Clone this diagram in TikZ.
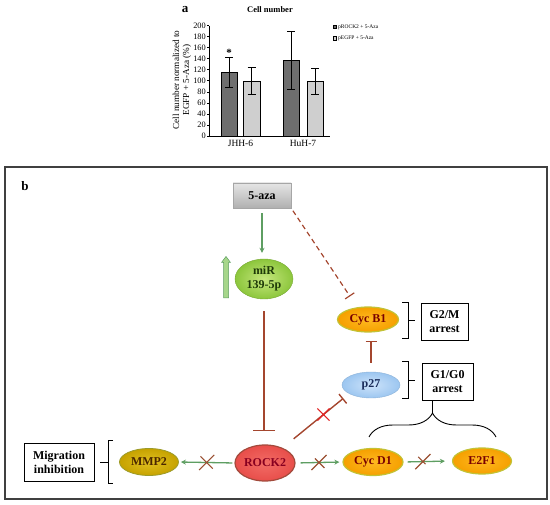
\documentclass[tikz,border=0pt]{standalone}
\usepackage{fontspec}
\setmainfont{Liberation Serif}
\usetikzlibrary{arrows.meta,shapes.geometric,shapes.misc,decorations.pathreplacing,calc,shadows}

\definecolor{bardark}{HTML}{6E6E6E}
\definecolor{barlight}{HTML}{CFCFCF}
\definecolor{mirgreen}{HTML}{8CC63C}
\definecolor{mirlight}{HTML}{C6E77E}
\definecolor{mirtext}{HTML}{1E3A08}
\definecolor{cycorange}{HTML}{F5A000}
\definecolor{cycinner}{HTML}{FFB820}
\definecolor{cycrim}{HTML}{C2C236}
\definecolor{cyctext}{HTML}{780000}
\definecolor{pblue}{HTML}{9CC6F0}
\definecolor{plight}{HTML}{CDE3FA}
\definecolor{ptext}{HTML}{182A58}
\definecolor{mmpgold}{HTML}{C6A200}
\definecolor{mmpinner}{HTML}{E0C020}
\definecolor{mmptext}{HTML}{4A2600}
\definecolor{rockred}{HTML}{E84E4A}
\definecolor{rockinner}{HTML}{F26C66}
\definecolor{rockdark}{HTML}{A24A3C}
\definecolor{rocktext}{HTML}{880020}
\definecolor{actgreen}{HTML}{5E9E62}
\definecolor{upgreen}{HTML}{A6D68A}
\definecolor{inhbrown}{HTML}{A4462E}
\definecolor{xbrown}{HTML}{9A5032}
\definecolor{xred}{HTML}{E02424}
\definecolor{painel}{HTML}{404040}

\tikzset{
  eixo/.style={draw=black, line width=0.6pt},
  barra/.style={draw=black, line width=0.5pt},
  gene/.style={ellipse, inner sep=0pt, minimum width=60pt, minimum height=27pt, align=center,
    font=\bfseries\fontsize{12}{14}\selectfont},
  cyc/.style={gene, draw=cycrim, line width=1.2pt, inner color=cycinner, outer color=cycorange, text=cyctext},
  caixa/.style={draw=black, line width=0.9pt, inner sep=0pt, align=center,
    font=\bfseries\fontsize{12}{14}\selectfont},
  ativa/.style={draw=actgreen, line width=1.3pt, -{Stealth[length=5pt,width=5pt]}},
  inibe/.style={draw=inhbrown, line width=1.4pt, -{Bar[width=12pt]}},
  xmark/.style={cross out, draw=xbrown, line width=1.1pt, minimum width=14pt, minimum height=14pt, inner sep=0pt},
  chave/.style={draw=black, line width=0.9pt},
}

\begin{document}
\begin{tikzpicture}[x=1pt, y=-1pt]
    \useasboundingbox (0,0) rectangle (550,505);

    % Grafico: titulo e legenda
    \node[font=\bfseries\fontsize{13}{13}\selectfont] (la) at (185,10) {a};
    \node[font=\bfseries\fontsize{8.5}{9}\selectfont] (titulo) at (270,10) {Cell number};
    \draw[barra, fill=bardark] (333,25) rectangle (336.5,28.5);
    \draw[barra, fill=barlight] (333,36.5) rectangle (336.5,40);
    \node[anchor=west, inner sep=1pt, font=\fontsize{5.5}{6}\selectfont] (leg1) at (337,26.8) {pROCK2 + 5-Aza};
    \node[anchor=west, inner sep=1pt, font=\fontsize{5.5}{6}\selectfont] (leg2) at (337,38.3) {pEGFP + 5-Aza};

    % Barras com erro
    \foreach \xa/\xb/\v/\lo/\hi/\cor in {221/237/115/88/143/bardark, 243/260/100/75/125/barlight,
                                      283/299/137/85/190/bardark, 307/323/100/76/123/barlight} {
        \pgfmathsetmacro\xm{(\xa+\xb)/2}
        \draw[barra, fill=\cor] (\xa,136) rectangle (\xb,{136-0.552*\v});
        \draw[barra] (\xm,{136-0.552*\lo}) -- (\xm,{136-0.552*\hi});
        \draw[barra] (\xm-4,{136-0.552*\lo}) -- (\xm+4,{136-0.552*\lo});
        \draw[barra] (\xm-4,{136-0.552*\hi}) -- (\xm+4,{136-0.552*\hi});
    }
    \node[font=\bfseries\fontsize{11}{11}\selectfont] (estrela) at (229,53) {*};

    % Eixos
    \draw[eixo] (209,136) -- (209,25.6);
    \draw[eixo] (209,136) -- (330,136);
    \foreach \v in {0,20,...,200}
        \draw[eixo] (209,{136-0.552*\v}) -- (206.5,{136-0.552*\v})
            node[left, inner sep=0.5pt, font=\fontsize{8.3}{8}\selectfont] (t\v) {\v};
    \node[rotate=90, align=center, font=\fontsize{9.2}{10}\selectfont] (ylab) at (182,80)
        {Cell number normalized to\\EGFP + 5-Aza (\%)};
    \node[font=\fontsize{9.5}{10}\selectfont] (jhh) at (240.5,143) {JHH-6};
    \node[font=\fontsize{9.5}{10}\selectfont] (huh) at (303,143) {HuH-7};

    % Painel b
    \draw[draw=painel, line width=1.2pt] (5,167) rectangle (547,499);
    \node[font=\bfseries\fontsize{13}{13}\selectfont] (lb) at (25,186) {b};

    % Nos
    \node[caixa, draw=gray!70, line width=0.5pt, top color=gray!20, bottom color=gray!62,
        drop shadow={shadow xshift=1pt, shadow yshift=-1.5pt, opacity=0.3},
        minimum width=58pt, minimum height=25pt] (aza) at (262,195.5) {5-aza};
    \node[gene, minimum width=58pt, minimum height=40pt, inner color=mirlight, outer color=mirgreen,
        draw=mirgreen!85!black, line width=0.4pt, text=mirtext] (mir) at (264,279) {miR\\139-5p};
    \node[cyc, minimum width=61pt, minimum height=25pt] (cycb) at (368,319.5) {Cyc B1};
    \node[gene, minimum width=58pt, minimum height=26pt, inner color=plight, outer color=pblue,
        draw=pblue!90!black, line width=0.4pt, text=ptext] (p27) at (371,385) {p27};
    \node[gene, minimum height=36pt, inner color=rockinner, outer color=rockred,
        draw=rockdark, line width=1.2pt, text=rocktext] (rock) at (265,463) {ROCK2};
    \node[gene, minimum width=59pt, inner color=mmpinner, outer color=mmpgold,
        draw=cycrim!80!black, line width=0.8pt, text=mmptext] (mmp) at (149,462) {MMP2};
    \node[cyc] (cycd) at (373,462) {Cyc D1};
    \node[cyc, minimum width=59pt, minimum height=26pt] (etf) at (482,461) {E2F1};
    \node[caixa, minimum width=47pt, minimum height=37pt] (gtwo) at (444.5,321.5) {G2/M\\arrest};
    \node[caixa, minimum width=51pt, minimum height=37pt] (gone) at (447.5,381.5) {G1/G0\\arrest};
    \node[caixa, minimum width=70pt, minimum height=38pt] (migr) at (59,462) {Migration\\inhibition};

    % Seta de aumento
    \draw[draw=actgreen, fill=upgreen, line width=0.5pt] (223.5,298) -- (223.5,262.5) -- (221.5,262.5)
        -- (226,256.5) -- (230.5,262.5) -- (228.5,262.5) -- (228.5,298) -- cycle;

    % Ativacao e inibicao
    \draw[ativa, shorten <=5pt, shorten >=6pt] (aza.south) -- (aza.south |- mir.north);
    \draw[inibe, line width=1.2pt, dash pattern=on 5pt off 3.5pt, -{Bar[width=11pt]}, shorten <=3pt]
        (aza.south east) -- ($(cycb.north)+(-18,-10)$);
    \draw[inibe, -{Bar[width=22pt]}, shorten <=12pt, shorten >=13pt] (mir.south) -- (mir.south |- rock.north);
    \draw[inibe, -{Bar[width=11pt]}, shorten <=9pt, shorten >=8pt] (p27.north) -- (p27.north |- cycb.south);
    \draw[inibe] ($(rock.north east)+(7,-11)$) -- ($(p27.south west)+(-7,4)$)
        node[pos=0.6, xmark, draw=xred, minimum width=11pt, minimum height=11pt] (xp) {};
    \draw[ativa, shorten <=2pt, shorten >=2pt] (rock.west) -- (mmp.east) node[midway, xmark] (xm) {};
    \draw[ativa, shorten <=5pt, shorten >=3pt] (rock.east) -- (cycd.west) node[midway, xmark] (xd) {};
    \draw[ativa, shorten <=4pt, shorten >=7pt] (cycd.east) -- (etf.west) node[pos=0.4, xmark] (xe) {};

    % Chaves
    \draw[chave] (402,302) -- (408,302) -- (408,338) -- (402,338) (408,320) -- (415,320);
    \draw[chave] (402,361) -- (408,361) -- (408,398) -- (402,398) (408,380) -- (415,380);
    \draw[chave] (113,440) -- (108,440) -- (108,483) -- (113,483) (108,462) -- (100,462);
    \draw[chave, decorate, decoration={brace, amplitude=24pt}] (369,437) -- (496,437);
    \coordinate (ponta) at (432.5,413);
    \draw[chave] (gone.south -| ponta) -- (ponta);
\end{tikzpicture}
\end{document}
